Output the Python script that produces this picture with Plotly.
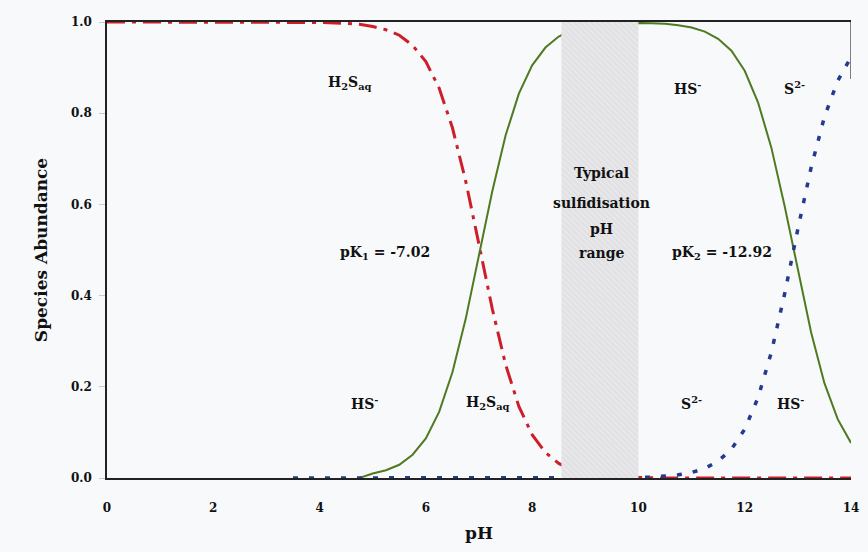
import plotly.graph_objects as go

# pH grid shared by the three sulfide species
ph = [0.0, 1.0, 2.0, 3.0, 3.5, 4.0, 4.5, 4.75, 5.0, 5.25, 5.5, 5.75, 6.0, 6.25, 6.5,
      6.75, 7.0, 7.25, 7.5, 7.75, 8.0, 8.25, 8.5, 8.75, 9.0, 9.25, 9.5, 9.75, 10.0,
      10.25, 10.5, 10.75, 11.0, 11.25, 11.5, 11.75, 12.0, 12.25, 12.5, 12.75, 13.0,
      13.25, 13.5, 13.75, 14.0]

# fraction of each species at the pH values above
h2s = [1.0, 1.0, 1.0, 1.0, 0.999, 0.999, 0.997, 0.995, 0.990, 0.983, 0.971, 0.949,
       0.913, 0.855, 0.768, 0.651, 0.512, 0.371, 0.249, 0.157, 0.095, 0.056, 0.032,
       0.018, 0.010, 0.006, 0.003, 0.002, 0.001, 0.0, 0.0, 0.0, 0.0, 0.0, 0.0, 0.0,
       0.0, 0.0, 0.0, 0.0, 0.0, 0.0, 0.0, 0.0, 0.0]
hs = [None, None, None, None, None, None, None, 0.0, 0.010, 0.017, 0.029, 0.051,
      0.087, 0.145, 0.232, 0.349, 0.488, 0.629, 0.751, 0.843, 0.905, 0.944, 0.968,
      0.982, 0.990, 0.994, 0.996, 0.997, 0.998, 0.997, 0.996, 0.993, 0.988, 0.979,
      0.963, 0.937, 0.893, 0.824, 0.725, 0.597, 0.454, 0.319, 0.208, 0.129, 0.077]
s2 = [None, None, None, None, 0.0, 0.0, 0.0, 0.0, 0.0, 0.0, 0.0, 0.0, 0.0, 0.0, 0.0,
      0.0, 0.0, 0.0, 0.0, 0.0, 0.0, 0.0, 0.0, 0.0, 0.0, 0.0, 0.0, 0.0, 0.001, 0.002,
      0.004, 0.007, 0.012, 0.021, 0.037, 0.063, 0.107, 0.176, 0.275, 0.403, 0.546,
      0.681, 0.792, 0.871, 0.923]

# typical sulfidisation pH window
band_lo, band_hi = 8.55, 10.0

x_ticks = [0, 2, 4, 6, 8, 10, 12, 14]
y_ticks = [0.0, 0.2, 0.4, 0.6, 0.8, 1.0]

FONT = "DejaVu Serif"
BG = "#f8f9fb"
INK = "#111111"

fig = go.Figure()

fig.add_trace(go.Scatter(
    x=ph, y=h2s, mode="lines", name="H2S",
    line=dict(color="#cc1f2a", width=3, dash="18px,7px,4px,7px"),
))
fig.add_trace(go.Scatter(
    x=ph, y=hs, mode="lines", name="HS-",
    line=dict(color="#4f7a22", width=2),
))
fig.add_trace(go.Scatter(
    x=ph, y=s2, mode="lines", name="S2-",
    line=dict(color="#233a8f", width=3.5, dash="5px,11px"),
))

# hatched band drawn over the curves
fig.add_trace(go.Scatter(
    x=[band_lo, band_hi, band_hi, band_lo, band_lo],
    y=[0, 0, 1, 1, 0],
    mode="lines", fill="toself", line=dict(width=0),
    fillcolor="#e1e1e4",
    fillpattern=dict(shape="\\", bgcolor="#e1e1e4", fgcolor="#f4f4f6",
                     size=4, solidity=0.35),
    hoverinfo="skip",
))


def label(x, y, text, size=14):
    fig.add_annotation(x=x, y=y, text=f"<b>{text}</b>", showarrow=False,
                       font=dict(family=FONT, size=size, color=INK),
                       xanchor="center", yanchor="middle")


label(4.57, 0.866, "H<sub>2</sub>S<sub>aq</sub>")
label(10.93, 0.855, "HS<sup>-</sup>")
label(12.93, 0.855, "S<sup>2-</sup>")
label(5.24, 0.493, "pK<sub>1</sub> = -7.02")
label(11.57, 0.493, "pK<sub>2</sub> = -12.92")
label(4.85, 0.164, "HS<sup>-</sup>")
label(7.17, 0.164, "H<sub>2</sub>S<sub>aq</sub>")
label(11.0, 0.164, "S<sup>2-</sup>")
label(12.87, 0.164, "HS<sup>-</sup>")

for yy, txt in zip([0.669, 0.603, 0.546, 0.494],
                   ["Typical", "sulfidisation", "pH", "range"]):
    label(9.3, yy, txt)

# short frame segment at the upper right corner
fig.add_shape(type="line", x0=14, x1=14, y0=1.0, y1=0.875, xref="x", yref="y",
              line=dict(color="#555555", width=1.5))

fig.update_layout(
    width=868, height=552,
    margin=dict(l=107, r=9, t=22, b=74),
    paper_bgcolor=BG, plot_bgcolor=BG,
    showlegend=False,
    font=dict(family=FONT, color=INK),
)
fig.update_xaxes(
    range=[0, 14], tickvals=x_ticks, ticktext=[str(v) for v in x_ticks],
    showgrid=False, zeroline=False,
    showline=True, linecolor="#222222", linewidth=1.5, mirror=True,
    ticks="", ticklabelstandoff=18, layer="below traces",
    tickfont=dict(family=FONT, size=12, color=INK, weight="bold"),
    title=dict(text="<b>pH</b>", font=dict(family=FONT, size=17), standoff=13),
)
fig.update_yaxes(
    range=[0, 1.0], tickvals=y_ticks, ticktext=[f"{v:.1f}" for v in y_ticks],
    showgrid=False, zeroline=False,
    showline=True, linecolor="#222222", linewidth=1.5,
    ticks="outside", ticklen=6, tickcolor="#cccccc", ticklabelstandoff=5,
    layer="below traces",
    tickfont=dict(family=FONT, size=12, color=INK, weight="bold"),
    title=dict(text="<b>Species Abundance</b>", font=dict(family=FONT, size=17),
               standoff=19),
)

fig.write_html("out.html")
